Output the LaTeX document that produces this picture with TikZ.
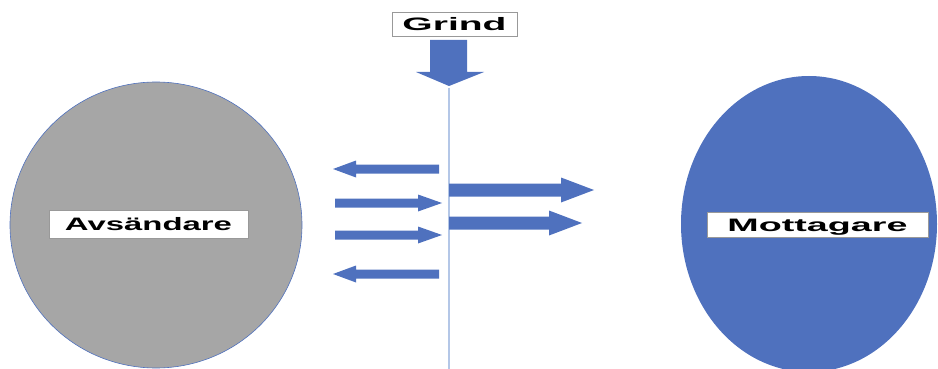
\documentclass[tikz,border=0pt]{standalone}
\usepackage{fontspec}
\setmainfont{Liberation Sans}
\usepackage{graphicx}
\usetikzlibrary{shapes.geometric}

\definecolor{officeblue}{HTML}{4F71BE}
\definecolor{sendergray}{HTML}{A6A6A6}
\definecolor{gatecolor}{HTML}{B4C7E7}

% wide bold word, stretched to a given width
\newcommand\wideword[2]{\resizebox{#1}{\height}{\fontsize{18}{18}\selectfont\bfseries #2}}

% horizontal block arrow: tail x, tip x, y, head base x, shaft half width, head half width
\newcommand\blockarrow[6]{%
  \fill[officeblue] (#1,#3-#5) -- (#4,#3-#5) -- (#4,#3-#6) -- (#2,#3)
    -- (#4,#3+#6) -- (#4,#3+#5) -- (#1,#3+#5) -- cycle;}

\begin{document}
\begin{tikzpicture}[x=1pt,y=-1pt,
  party/.style={ellipse, inner sep=0pt},
  namebox/.style={draw=black!40, line width=0.8pt, fill=white, inner sep=0pt,
    text height=13pt, text depth=0pt}]
\useasboundingbox (0,0) rectangle (938,369);
\clip (0,0) rectangle (938,369);

% sender and receiver
\node[party, fill=sendergray, draw=officeblue, line width=0.6pt,
  minimum width=292pt, minimum height=286pt] (sender) at (156,225) {};
\node[party, fill=officeblue,
  minimum width=256pt, minimum height=296pt] (receiver) at (809,224) {};

\node[namebox, minimum width=199pt, minimum height=28pt] (senderlabel) at (148.5,224)
  {\wideword{167pt}{Avsändare}};
\node[namebox, minimum width=221pt, minimum height=25pt] (receiverlabel) at (817.5,224.5)
  {\wideword{180pt}{Mottagare}};

% the gate
\node[namebox, minimum width=125pt, minimum height=24pt] (grind) at (454.5,24)
  {\wideword{104pt}{Grind}};
\coordinate (gatetop) at (449,88);
\coordinate (gatebottom) at (449,372);
\draw[gatecolor, line width=1.6pt] (gatetop) -- (gatebottom);

% arrow pointing down onto the gate
\fill[officeblue] (430,40) -- (467,40) -- (467,72) -- (484,72) -- (449,86)
  -- (416,72) -- (430,72) -- cycle;

% traffic on the sender side
\blockarrow{439}{333}{169}{356}{4.5}{8.5}
\blockarrow{335}{442}{203}{418}{4.5}{8.5}
\blockarrow{335}{442}{235}{418}{4.5}{8.5}
\blockarrow{439}{333}{274}{356}{4.5}{8.5}

% traffic passed on to the receiver
\blockarrow{449}{594}{190}{561}{6.5}{12.5}
\blockarrow{449}{582}{223}{549}{6.5}{12.5}
\end{tikzpicture}
\end{document}
